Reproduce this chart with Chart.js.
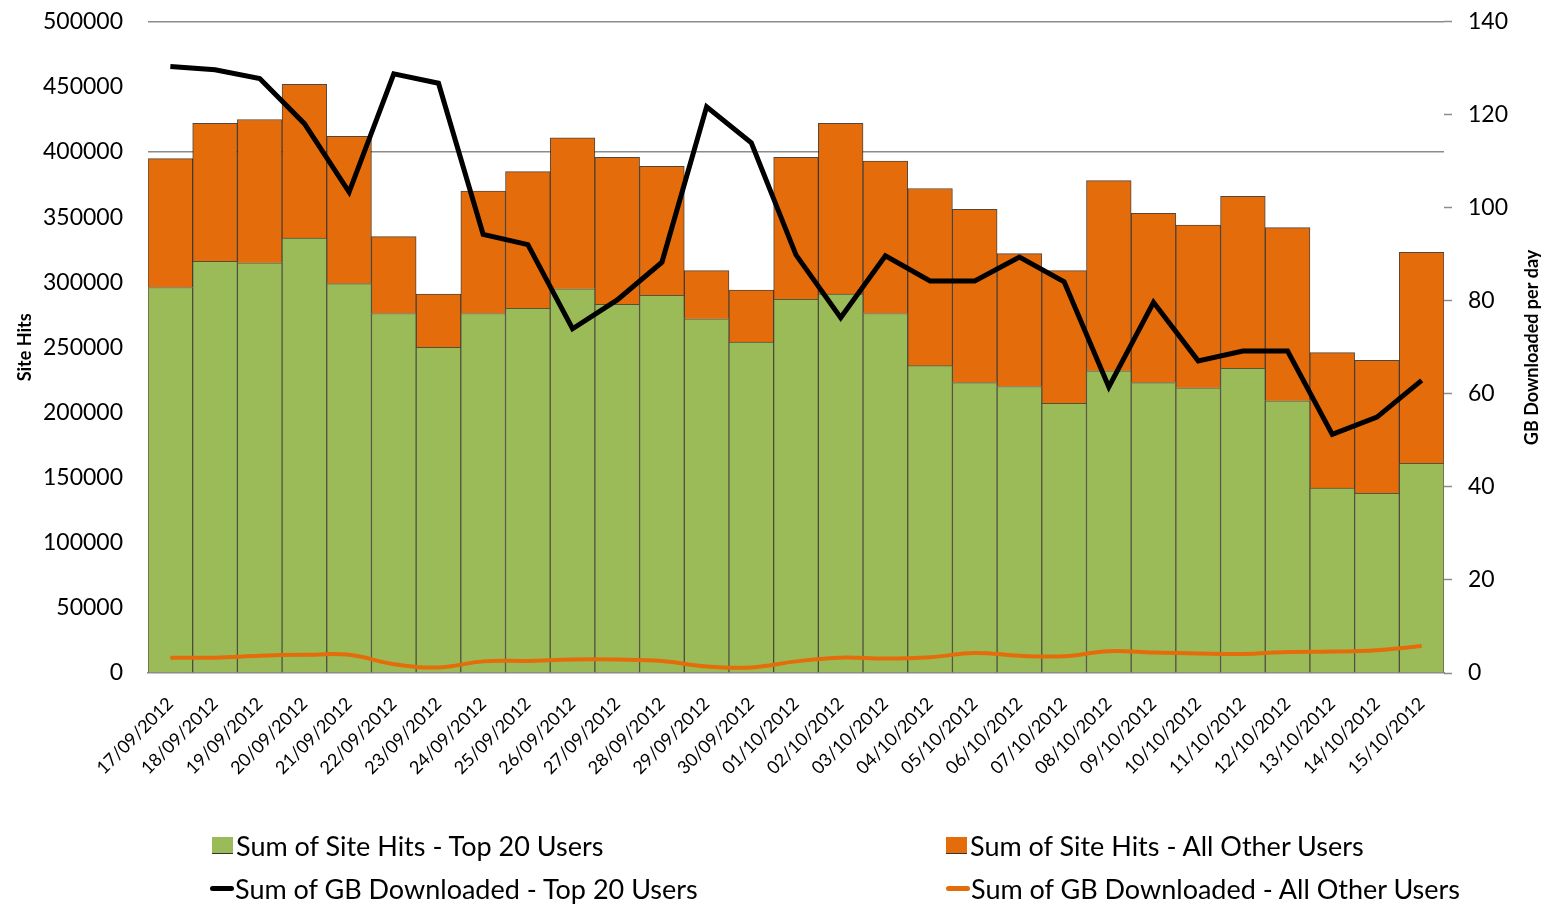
<!DOCTYPE html>
<html>
<head>
<meta charset="utf-8">
<script src="https://cdn.jsdelivr.net/npm/chart.js@4/dist/chart.umd.min.js"></script>
<style>
    body { margin: 0; background: #fff; }
    #wrap { position: relative; width: 1548px; height: 906px; }
    #legend { position: absolute; left: 0; top: 0; width: 1548px; height: 906px; pointer-events: none;
        font-family: Lato, "Open Sans", sans-serif; font-size: 27px; color: #000; }
    .item { position: absolute; display: flex; align-items: center; white-space: nowrap; }
    .box { width: 21px; height: 17px; margin-right: 3px; box-sizing: border-box; border-bottom: 1px solid #333; }
    .ln { width: 24px; height: 5px; border-radius: 3px; margin-right: 1px; }
</style>
</head>
<body>
<div id="wrap">
    <canvas id="hitsChart"></canvas>
    <div id="legend"></div>
</div>
<script>
// Dates on the x axis
const days = ['17/09/2012', '18/09/2012', '19/09/2012', '20/09/2012', '21/09/2012', '22/09/2012', '23/09/2012',
    '24/09/2012', '25/09/2012', '26/09/2012', '27/09/2012', '28/09/2012', '29/09/2012', '30/09/2012',
    '01/10/2012', '02/10/2012', '03/10/2012', '04/10/2012', '05/10/2012', '06/10/2012', '07/10/2012',
    '08/10/2012', '09/10/2012', '10/10/2012', '11/10/2012', '12/10/2012', '13/10/2012', '14/10/2012', '15/10/2012'];

// Site hits (stacked bars, left axis)
const hitsTop20 = [296000, 316000, 315000, 334000, 299000, 276000, 250000, 276000, 280000, 295000, 283000, 290000, 272000, 254000,
    287000, 291000, 276000, 236000, 223000, 220000, 207000, 232000, 223000, 219000, 234000, 209000, 142000, 138000, 161000];
const hitsOthers = [99000, 106000, 110000, 118000, 113000, 59000, 41000, 94000, 105000, 116000, 113000, 99000, 37000, 40000,
    109000, 131000, 117000, 136000, 133000, 102000, 102000, 146000, 130000, 125000, 132000, 133000, 104000, 102000, 162000];

// GB downloaded per day (lines, right axis)
const gbTop20 = [130.4, 129.7, 127.8, 118.1, 103.4, 128.8, 126.8, 94.3, 92.1, 74.0, 80.2, 88.3, 121.7, 114.0,
    89.9, 76.4, 89.7, 84.3, 84.3, 89.4, 84.1, 61.5, 79.7, 67.1, 69.2, 69.2, 51.3, 55.0, 62.9];
const gbOthers = [3.3, 3.3, 3.7, 3.9, 3.9, 1.9, 1.2, 2.5, 2.6, 2.9, 2.9, 2.6, 1.4, 1.2,
    2.5, 3.3, 3.1, 3.4, 4.3, 3.7, 3.6, 4.7, 4.4, 4.2, 4.1, 4.5, 4.6, 4.9, 5.8];

// Axis ticks
const hitsTicks = [0, 50000, 100000, 150000, 200000, 250000, 300000, 350000, 400000, 450000, 500000];
const hitsGridLines = [400000, 500000];
const gbTicks = [0, 20, 40, 60, 80, 100, 120, 140];

const GREEN = '#9BBB59';
const ORANGE = '#E46C0A';
const FONT = 'Lato, "Open Sans", sans-serif';

// right axis title reads bottom-to-top, so draw it by hand
const rightTitle = {
    id: 'rightTitle',
    afterDraw(chart) {
        const ctx = chart.ctx;
        const area = chart.chartArea;
        ctx.save();
        ctx.translate(1532, (area.top + area.bottom) / 2);
        ctx.rotate(-Math.PI / 2);
        ctx.font = 'bold 18px ' + FONT;
        ctx.fillStyle = '#000';
        ctx.textAlign = 'center';
        ctx.textBaseline = 'middle';
        ctx.fillText('GB Downloaded per day', 0, 0);
        ctx.restore();
    }
};

const ctx = document.getElementById('hitsChart').getContext('2d');
const chart = new Chart(ctx, {
    type: 'bar',
    data: {
        labels: days,
        datasets: [
            {
                type: 'line', label: 'Sum of GB Downloaded - Top 20 Users', data: gbTop20, yAxisID: 'y1',
                borderColor: '#000', backgroundColor: '#000', borderWidth: 5, pointRadius: 0, tension: 0, order: 0
            },
            {
                type: 'line', label: 'Sum of GB Downloaded - All Other Users', data: gbOthers, yAxisID: 'y1',
                borderColor: ORANGE, backgroundColor: ORANGE, borderWidth: 4, pointRadius: 0, tension: 0.4, order: 1
            },
            {
                label: 'Sum of Site Hits - Top 20 Users', data: hitsTop20, yAxisID: 'y', stack: 'hits',
                backgroundColor: GREEN, borderColor: 'rgba(45,50,25,0.8)', borderWidth: 1,
                barPercentage: 1, categoryPercentage: 1, order: 2
            },
            {
                label: 'Sum of Site Hits - All Other Users', data: hitsOthers, yAxisID: 'y', stack: 'hits',
                backgroundColor: ORANGE, borderColor: 'rgba(40,25,10,0.8)', borderWidth: 1,
                barPercentage: 1, categoryPercentage: 1, order: 3
            }
        ]
    },
    options: {
        responsive: true,
        maintainAspectRatio: false,
        animation: false,
        layout: { padding: 0 },
        plugins: {
            legend: { display: false },
            tooltip: { enabled: false }
        },
        scales: {
            x: {
                stacked: true,
                grid: { display: false, drawTicks: false },
                border: { display: true, color: '#888', width: 1.5 },
                ticks: {
                    color: '#000', font: { family: FONT, size: 18 },
                    minRotation: 45, maxRotation: 45, autoSkip: false, padding: 20
                },
                afterFit(scale) { scale.height = 233; }
            },
            y: {
                stacked: true,
                position: 'left',
                min: 0, max: 500000,
                afterBuildTicks(scale) { scale.ticks = hitsTicks.map(v => ({ value: v })); },
                grid: {
                    drawTicks: true, tickLength: 17, tickColor: 'rgba(0,0,0,0)',
                    color: c => (c.tick && hitsGridLines.includes(c.tick.value)) ? '#8c8c8c' : 'rgba(0,0,0,0)',
                    lineWidth: 1.5
                },
                border: { display: false },
                ticks: {
                    color: '#000', font: { family: FONT, size: 23 }, padding: 8,
                    callback: v => String(v)
                },
                title: {
                    display: true, text: 'Site Hits', color: '#000',
                    font: { family: FONT, size: 18, weight: 'bold' }, padding: { top: 14, bottom: 0 }
                },
                afterFit(scale) { scale.width = 148; }
            },
            y1: {
                position: 'right',
                min: 0, max: 140,
                afterBuildTicks(scale) { scale.ticks = gbTicks.map(v => ({ value: v })); },
                grid: {
                    drawOnChartArea: false, drawTicks: true, tickLength: 16,
                    tickColor: '#8c8c8c', tickBorderDash: [8, 40], tickWidth: 1.5
                },
                border: { display: false },
                ticks: { color: '#000', font: { family: FONT, size: 23 }, padding: 8 },
                afterFit(scale) { scale.width = 104; }
            }
        }
    },
    plugins: [rightTitle]
});

// Legend in two columns, like the original
const legendSpots = [
    { ds: 2, x: 212, y: 845, kind: 'box' },
    { ds: 3, x: 946, y: 845, kind: 'box' },
    { ds: 0, x: 210, y: 888, kind: 'ln' },
    { ds: 1, x: 946, y: 888, kind: 'ln' }
];
const legendEl = document.getElementById('legend');
legendSpots.forEach(s => {
    const d = chart.data.datasets[s.ds];
    const item = document.createElement('div');
    item.className = 'item';
    item.style.left = s.x + 'px';
    item.style.top = (s.y - 16) + 'px';
    item.style.height = '32px';
    const mark = document.createElement('span');
    mark.className = s.kind;
    mark.style.background = s.kind === 'box' ? d.backgroundColor : d.borderColor;
    const txt = document.createElement('span');
    txt.textContent = d.label;
    item.appendChild(mark);
    item.appendChild(txt);
    legendEl.appendChild(item);
});
</script>
</body>
</html>
